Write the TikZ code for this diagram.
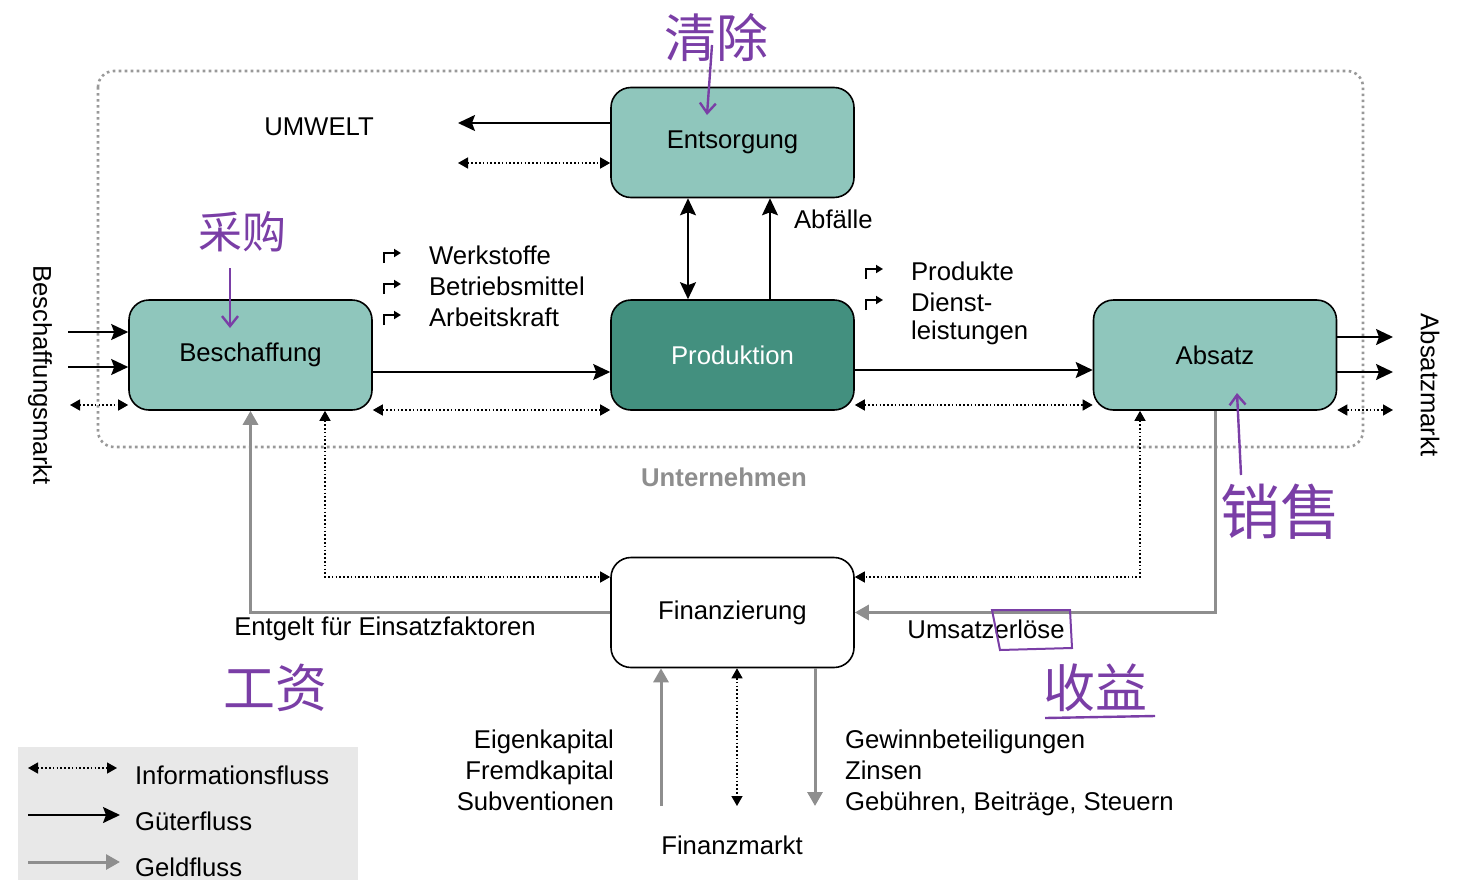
\documentclass[tikz,border=0pt]{standalone}
\usepackage{fontspec}
\setmainfont{Liberation Sans}
\newfontfamily\cjk{Noto Sans CJK SC}
\usetikzlibrary{arrows.meta,calc}
\definecolor{teal1}{HTML}{8FC6BC}
\definecolor{teal2}{HTML}{43907F}
\definecolor{money}{HTML}{8E8E8E}
\definecolor{pen}{HTML}{7A3EA6}
\definecolor{legbg}{HTML}{E8E8E8}
\begin{document}
\begin{tikzpicture}[x=0.5pt,y=-0.5pt,
  every node/.style={font=\fontsize{12.85}{15.5}\selectfont},
  box/.style={draw=black,line width=0.8pt,rounded corners=10pt,minimum width=121.5pt,minimum height=55pt,inner sep=0pt},
  goods/.style={line width=0.9pt,-{Stealth[length=8.5pt,width=8pt,inset=1.5pt]}},
  goods2/.style={line width=0.9pt,{Stealth[length=8.5pt,width=8pt,inset=1.5pt]}-{Stealth[length=8.5pt,width=8pt,inset=1.5pt]}},
  info/.style={line width=0.7pt,dash pattern=on 0.8pt off 1.1pt,{Triangle[length=5pt,width=5.5pt]}-{Triangle[length=5pt,width=5.5pt]}},
  mon/.style={draw=money,line width=1.5pt,-{Triangle[length=7pt,width=7.5pt]},money},
  hand/.style={text=pen,font=\cjk\fontsize{26}{28}\selectfont},
  handarrow/.style={draw=pen,line width=1.2pt,-{Straight Barb[length=5pt,width=8pt]}},
  corner/.style={line width=0.9pt,-{Triangle[length=3.5pt,width=4pt]}},
]
\path[use as bounding box] (0,0) rectangle (1466,894);
% enterprise frame
\draw[money!90,line width=1.3pt,dash pattern=on 1.3pt off 1.7pt,rounded corners=8pt] (98,71) rectangle (1363,447);
\node[text=money,font=\bfseries\fontsize{12.85}{15}\selectfont] (unt) at (724,477) {Unternehmen};
% boxes
\node[box,fill=teal1] (ents) at (732.5,142.5) {Entsorgung};
\node[box,fill=teal1] (besch) at (250.5,355) {Beschaffung};
\node[box,fill=teal2,text=white] (prod) at (732.5,355) {Produktion};
\node[box,fill=teal1] (abs) at (1215,355) {Absatz};
\node[box,fill=white] (fin) at (732.5,612.5) {Finanzierung};
% Umwelt
\node (umw) at (319,127) {UMWELT};
\coordinate (u1) at (458,123);
\coordinate (u2) at (458,163);
\draw[goods] ([yshift=9.75pt]ents.west) -- (u1);
\draw[info] (u2) -- ([yshift=-10.25pt]ents.west);
% Entsorgung - Produktion
\draw[goods2] ([xshift=-22.25pt]prod.north) -- ([xshift=-22.25pt]ents.south);
\draw[goods] ([xshift=18.75pt]prod.north) -- ([xshift=18.75pt]ents.south);
\node[anchor=west] (abf) at (787,219) {Abfälle};
% Beschaffung - Produktion
\draw[goods] ([yshift=-8.5pt]besch.east) -- ([yshift=-8.5pt]prod.west);
\draw[info] ([yshift=-27.5pt]besch.east) -- ([yshift=-27.5pt]prod.west);
% Produktion - Absatz
\draw[goods] ([yshift=-7.5pt]prod.east) -- ([yshift=-7.5pt]abs.west);
\draw[info] ([yshift=-25pt]prod.east) -- ([yshift=-25pt]abs.west);
% input list
\foreach \y/\t [count=\i] in {255/Werkstoffe,286/Betriebsmittel,317/Arbeitskraft}{
  \draw[corner] (384,\y+8) -- (384,\y-2) -- (401,\y-2);
  \node[anchor=west] (in\i) at (422,\y) {\t};
}
\foreach \y/\t [count=\i] in {271/Produkte,302/Dienst-,333/leistungen}{
  \node[anchor=west] (out\i) at (904,\y) {\t};
}
\draw[corner] (866,279) -- (866,269) -- (883,269);
\draw[corner] (866,310) -- (866,300) -- (883,300);
% market left
\coordinate (l1) at (68,332);
\coordinate (l2) at (68,367);
\coordinate (l3) at (70,405);
\draw[goods] (l1) -- ([yshift=11.5pt]besch.west);
\draw[goods] (l2) -- ([yshift=-6pt]besch.west);
\draw[info] (l3) -- ([yshift=-25pt]besch.west);
\node[rotate=-90] (bm) at (40,375) {Beschaffungsmarkt};
% market right
\coordinate (r1) at (1393,337);
\coordinate (r2) at (1393,372);
\coordinate (r3) at (1393,410);
\draw[goods] ([yshift=9pt]abs.east) -- (r1);
\draw[goods] ([yshift=-8.5pt]abs.east) -- (r2);
\draw[info] ([yshift=-27.5pt]abs.east) -- (r3);
\node[rotate=-90] (am) at (1430,385) {Absatzmarkt};
% money / info to Finanzierung
\draw[mon] (fin.west) -| (besch.south);
\draw[info] ([xshift=37.25pt]besch.south) |- ([yshift=17.75pt]fin.west);
\draw[info] ([xshift=-37.5pt]abs.south) |- ([yshift=17.75pt]fin.east);
\draw[mon] (abs.south) |- (fin.east);
\node (entg) at (385,629) {Entgelt für Einsatzfaktoren};
\node (ums) at (986,629) {Umsatzerlöse};
% Finanzmarkt
\coordinate (f1) at (661,806);
\coordinate (f2) at (737,806);
\coordinate (f3) at (815,806);
\draw[mon] (f1) -- ([xshift=-35.75pt]fin.south);
\draw[info] ([xshift=2.25pt]fin.south) -- (f2);
\draw[mon] ([xshift=41.25pt]fin.south) -- (f3);
\node[anchor=east,align=right] (eig) at (621,770) {Eigenkapital\\Fremdkapital\\Subventionen};
\node[anchor=west,align=left] (gew) at (838,773) {Gewinnbeteiligungen\\Zinsen\\Gebühren, Beiträge, Steuern};
\node (fm) at (732,845) {Finanzmarkt};
% legend
\fill[legbg] (18,747) rectangle (358,880);
\coordinate (g1) at (28,768); \coordinate (g2) at (117,768);
\coordinate (g3) at (28,815); \coordinate (g4) at (120,815);
\coordinate (g5) at (28,862); \coordinate (g6) at (120,862);
\draw[info] (g1) -- (g2);
\draw[goods] (g3) -- (g4);
\draw[mon] (g5) -- (g6);
\node[anchor=west] (li) at (128,775) {Informationsfluss};
\node[anchor=west] (lg) at (128,821) {Güterfluss};
\node[anchor=west] (lm) at (128,867) {Geldfluss};
% handwritten annotations
\node[hand] (h1) at (716,38) {清除};
\draw[handarrow] (712,45) -- (707,115);
\node[hand,font=\cjk\fontsize{22}{24}\selectfont] (h2) at (242,232) {采购};
\draw[handarrow] (230,268) -- (230,328);
\node[hand,font=\cjk\fontsize{30}{32}\selectfont] (h3) at (1280,512) {销售};
\draw[handarrow] (1241,475) -- (1237,393);
\node[hand] (h4) at (275,688) {工资};
\node[hand] (h5) at (1095,688) {收益};
\draw[pen,line width=1.2pt] (1045,718) -- (1155,716);
\draw[pen,line width=1pt] (992,610) -- (1070,610) -- (1072,648) -- (1000,650) -- cycle;
\end{tikzpicture}
\end{document}
